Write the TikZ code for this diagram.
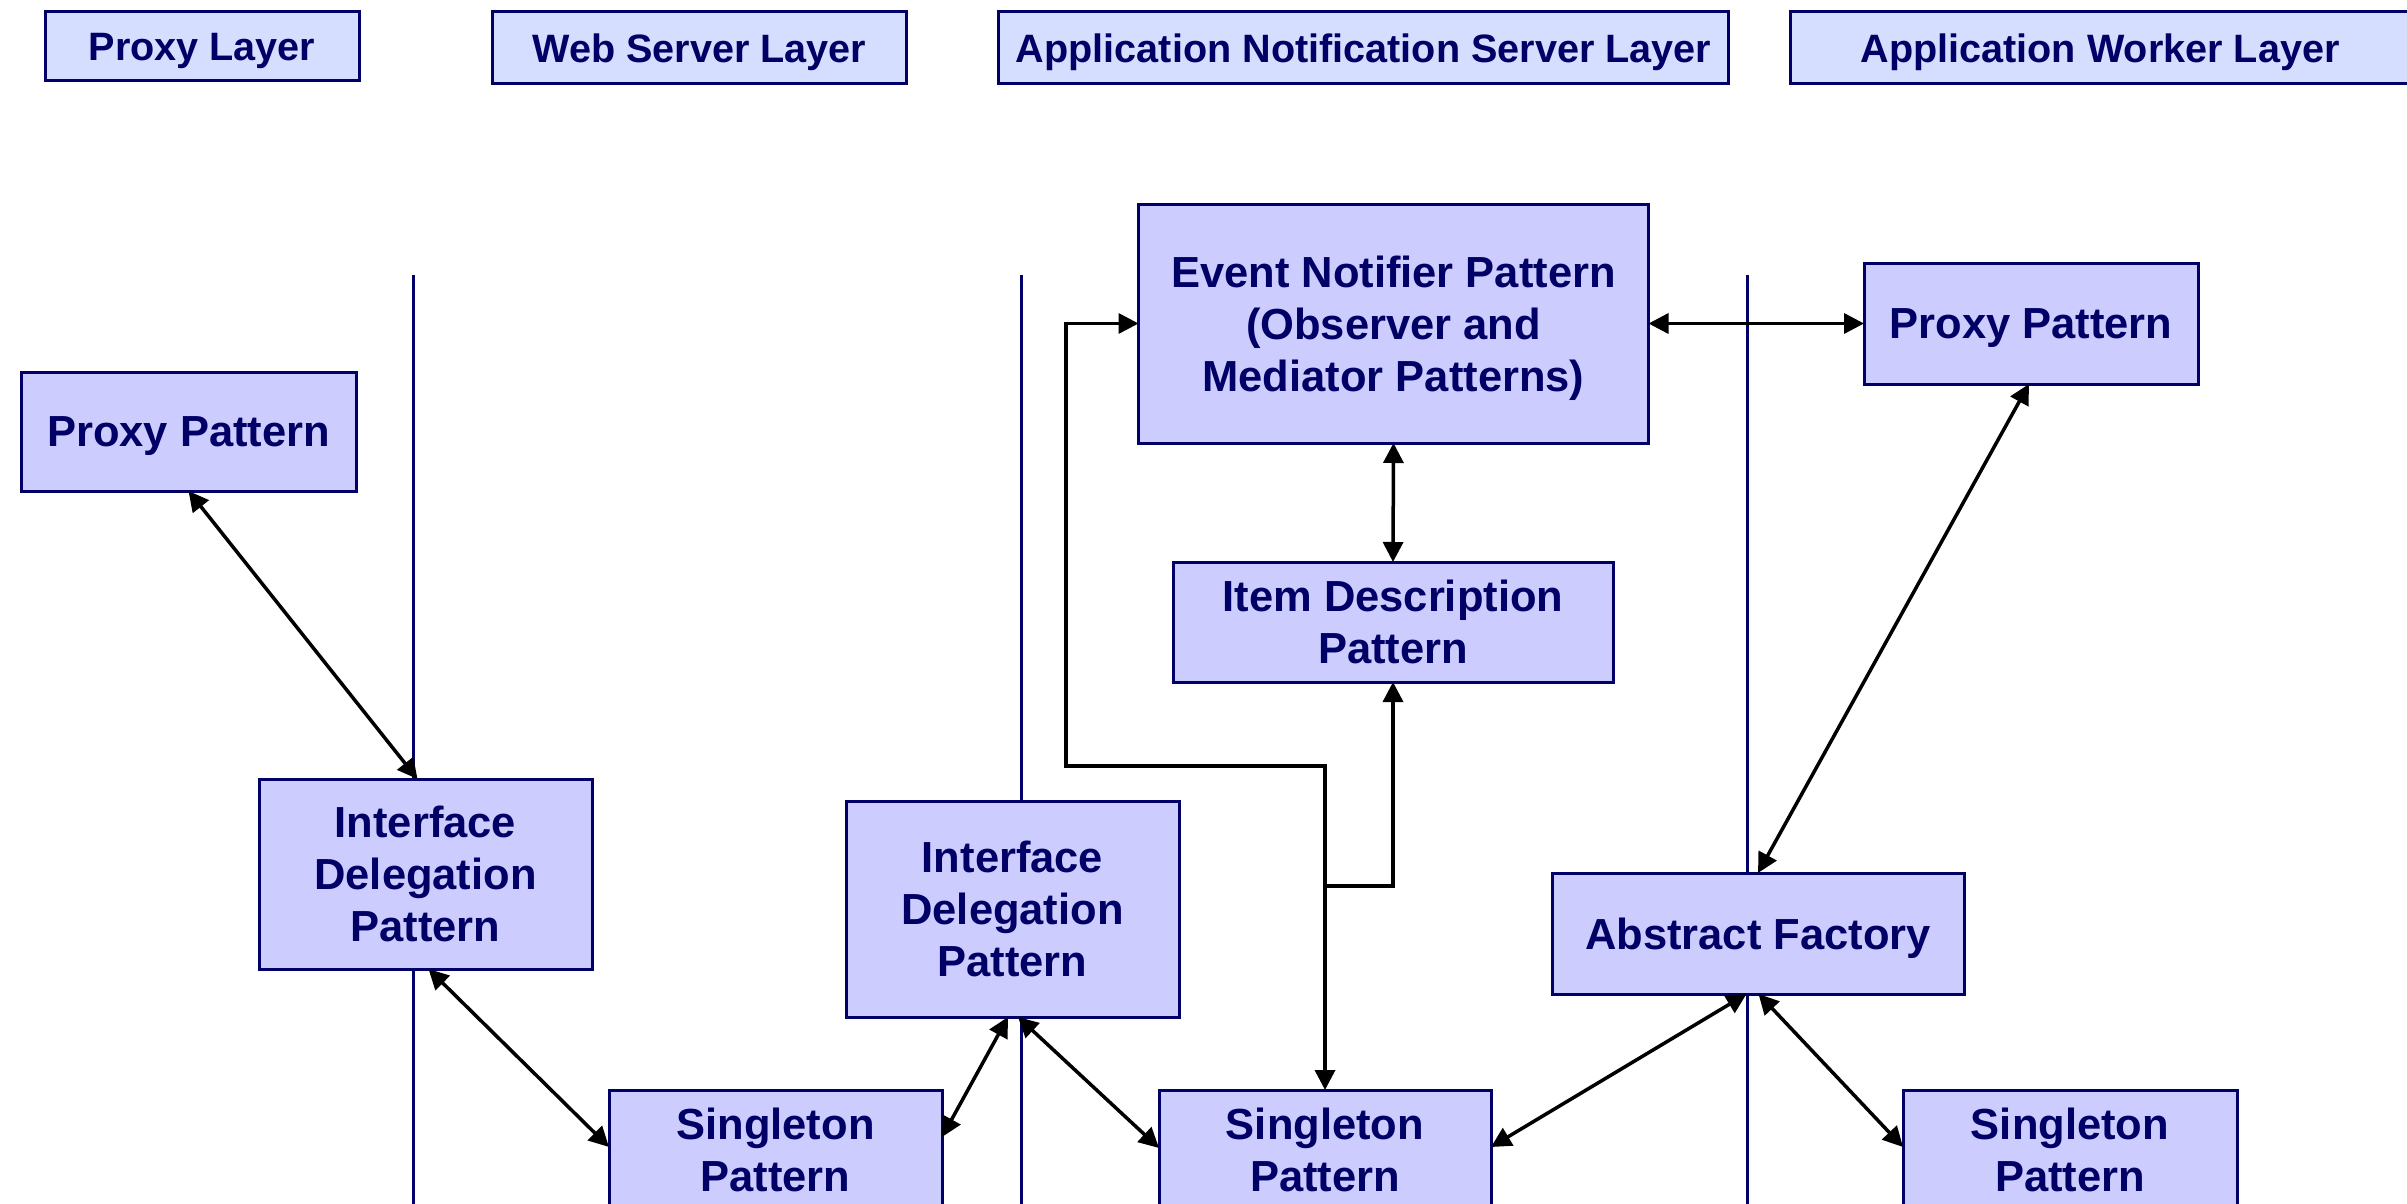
\documentclass[tikz,border=0pt]{standalone}
\usepackage{fontspec}
\setmainfont{Liberation Sans}
\usetikzlibrary{arrows.meta}
\definecolor{navy}{HTML}{000066}
\definecolor{boxfill}{HTML}{CCCCFF}
\definecolor{hdrfill}{HTML}{D6DEFF}
\tikzset{
  pat/.style={draw=navy, line width=3pt, fill=boxfill, text=navy, inner sep=0pt, outer sep=0pt,
    align=center, text depth=0pt, font=\fontsize{43.5}{52}\selectfont\bfseries},
  hdr/.style={draw=navy, line width=3pt, fill=hdrfill, text=navy, inner sep=0pt, outer sep=0pt,
    align=center, text depth=0pt, font=\fontsize{39.6}{47}\selectfont\bfseries},
  lane/.style={draw=navy, line width=3pt},
  conn/.style={draw=black, line width=3.5pt, {Triangle[length=20pt,width=20pt]}-{Triangle[length=20pt,width=20pt]}},
  conn1/.style={draw=black, line width=3.5pt, -{Triangle[length=20pt,width=20pt]}}
}
\begin{document}
\begin{tikzpicture}[x=1pt,y=-1pt]
\useasboundingbox (0,0) rectangle (2407,1204);
% swim lane separators
\coordinate (l1t) at (413,275);  \coordinate (l1b) at (413,1215);
\coordinate (l2t) at (1021,275); \coordinate (l2b) at (1021,1215);
\coordinate (l3t) at (1747,275); \coordinate (l3b) at (1747,1215);
\draw[lane] (l1t) -- (l1b);
\draw[lane] (l2t) -- (l2b);
\draw[lane] (l3t) -- (l3b);
% headers
\node[hdr, minimum width=314, minimum height=69] (h1) at (202,46.5) {Proxy Layer};
\node[hdr, minimum width=414, minimum height=72] (h2) at (699.5,48) {Web Server Layer};
\node[hdr, minimum width=730, minimum height=72] (h3) at (1363.5,48) {Application Notification Server Layer};
\node[hdr, minimum width=620, minimum height=72] (h4) at (2100,48) {Application Worker Layer};
% pattern boxes
\node[pat, minimum width=335, minimum height=119] (pp1) at (188.5,431.5) {Proxy Pattern};
\node[pat, minimum width=333, minimum height=190] (id1) at (425.5,874) {Interface\\Delegation\\Pattern};
\node[pat, minimum width=333, minimum height=120] (s1) at (775.5,1150) {Singleton\\Pattern};
\node[pat, minimum width=333, minimum height=216] (id2) at (1012.5,909) {Interface\\Delegation\\Pattern};
\node[pat, minimum width=510, minimum height=239] (en) at (1393.5,323.5) {Event Notifier Pattern\\(Observer and\\Mediator Patterns)};
\node[pat, minimum width=440, minimum height=120] (item) at (1393,622) {Item Description\\Pattern};
\node[pat, minimum width=334, minimum height=121] (pp2) at (2031,323.5) {Proxy Pattern};
\node[pat, minimum width=412, minimum height=121] (af) at (1758,933.5) {Abstract Factory};
\node[pat, minimum width=332, minimum height=120] (s2) at (1325,1150) {Singleton\\Pattern};
\node[pat, minimum width=334, minimum height=120] (s3) at (2070,1150) {Singleton\\Pattern};
% connectors
\draw[conn] (pp1.south) -- ([xshift=-8pt]id1.north);
\draw[conn] ([xshift=3pt]id1.south) -- ([yshift=3pt]s1.west);
\draw[conn] ([yshift=13pt]s1.east) -- ([xshift=-4.5pt]id2.south);
\draw[conn] ([xshift=5.5pt]id2.south) -- ([yshift=2pt]s2.west);
\draw[conn] (en.south) -- (item.north);
\draw[conn] (en.east) -- (pp2.west);
\draw[conn] ([xshift=-2pt]pp2.south) -- (af.north);
\draw[conn] ([xshift=-11.5pt]af.south) -- ([yshift=3pt]s2.east);
\draw[conn] ([xshift=0.5pt]af.south) -- ([yshift=3pt]s3.west);
% elbow connector
\coordinate (e1) at (1066,323.5);
\coordinate (e2) at (1325,766);
\coordinate (j) at (1325,886);
\draw[conn] (en.west) -- (e1) |- (e2) -- (s2.north);
\draw[conn1] (j) -| (item.south);
\end{tikzpicture}
\end{document}
